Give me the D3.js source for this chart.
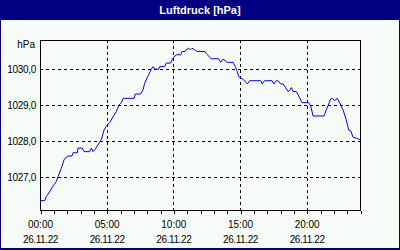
<!DOCTYPE html>
<html>
<head>
<meta charset="utf-8">
<script src="https://cdn.jsdelivr.net/npm/d3@7"></script>
<style>
	body { margin: 0; background: #f8fcf8; }
	text { font-family: "Liberation Sans", Arial, sans-serif; }
</style>
</head>
<body>
<div id="chart"></div>
<script>
(function (){
	"use strict";

// data: hours since 00:00 and pressure in hPa
var hours = [0, 0.35, 0.47, 0.73, 0.98, 1.22, 1.35, 1.6, 1.8, 1.97, 2.1, 2.4, 2.48, 2.8, 2.85, 3.17, 3.3, 3.73, 3.85, 3.98,
	4.15, 4.35, 4.6, 4.8, 4.97, 5.23, 5.48, 5.72, 5.93, 6.1, 6.23, 7.05, 7.15, 7.55, 7.73, 7.85, 8.1, 8.35, 8.48, 8.65,
	8.9, 8.98, 9.35, 9.47, 9.8, 9.98, 10.22, 10.55, 10.65, 10.88, 11.03, 11.15, 11.3, 11.4, 11.6, 11.78, 12.38, 12.47, 12.85, 13.4,
	13.55, 13.73, 14.05, 14.48, 14.65, 14.8, 14.9, 15.23, 15.55, 15.73, 16.55, 16.67, 16.85, 17.4, 17.55, 17.72, 17.85, 18.05, 18.23, 18.4,
	18.6, 18.73, 18.85, 18.98, 19.22, 19.4, 19.65, 20.15, 20.3, 20.48, 21.3, 21.47, 21.65, 21.8, 21.92, 22.1, 22.3, 22.48, 22.73, 22.97,
	23.15, 23.3, 23.48, 23.8, 24];
var pressure = [1026.35, 1026.35, 1026.46, 1026.60, 1026.76, 1026.88, 1027.02, 1027.25, 1027.48, 1027.56, 1027.59, 1027.59, 1027.68, 1027.68, 1027.81, 1027.81, 1027.71, 1027.71, 1027.81, 1027.71,
	1027.78, 1027.90, 1028.04, 1028.31, 1028.41, 1028.52, 1028.68, 1028.82, 1029.01, 1029.06, 1029.19, 1029.19, 1029.31, 1029.31, 1029.43, 1029.61, 1029.81, 1030.00, 1030.07, 1030.00,
	1030.00, 1030.07, 1030.07, 1030.17, 1030.17, 1030.31, 1030.40, 1030.40, 1030.49, 1030.49, 1030.56, 1030.58, 1030.54, 1030.58, 1030.54, 1030.49, 1030.49, 1030.43, 1030.29, 1030.29,
	1030.19, 1030.28, 1030.19, 1030.19, 1030.07, 1029.93, 1029.79, 1029.72, 1029.59, 1029.68, 1029.68, 1029.59, 1029.68, 1029.68, 1029.59, 1029.68, 1029.68, 1029.59, 1029.59, 1029.50,
	1029.38, 1029.41, 1029.49, 1029.38, 1029.38, 1029.26, 1029.07, 1029.07, 1028.98, 1028.70, 1028.70, 1028.87, 1029.03, 1029.17, 1029.19, 1029.13, 1029.19, 1029.06, 1028.87, 1028.59,
	1028.31, 1028.29, 1028.11, 1028.08, 1028.04];

var yTicks = [1027, 1028, 1029, 1030];
var xLabelHours = [0, 5, 10, 15, 20];
var timeLabels = ["00:00", "05:00", "10:00", "15:00", "20:00"];
var dateLabel = "26.11.22";
var title = "Luftdruck [hPa]";
var unit = "hPa";

var width = 400,
	height = 250,
	left = 40, right = 360,
	top = 40, bottom = 210;

var navy = "#000080";

var svg = d3.select("#chart").append("svg")
	.attr("width", width)
	.attr("height", height);

// frame + title bar
svg.append("rect")
	.attr("width", width).attr("height", height)
	.style("fill", navy);
svg.append("rect")
	.attr("x", 1).attr("y", 20)
	.attr("width", width - 2).attr("height", 228)
	.style("fill", "#f8fcf8");
svg.append("text")
	.attr("x", 200).attr("y", 14)
	.attr("text-anchor", "middle")
	.style("font-size", "11px")
	.style("font-weight", "bold")
	.style("fill", "white")
	.text(title);

var x = d3.scaleLinear().domain([0, 24]).range([left, right]);
var y = d3.scaleLinear().domain([1026.09, 1030.81]).range([bottom, top]);

// grid
var grid = svg.append("g").attr("class", "grid")
	.style("shape-rendering", "crispEdges");
grid.selectAll("line.v").data([5, 10, 15, 20])
	.enter().append("line")
		.attr("x1", function(d){ return Math.round(x(d)) + 0.5; })
		.attr("x2", function(d){ return Math.round(x(d)) + 0.5; })
		.attr("y1", top).attr("y2", bottom)
		.style("stroke", "black")
		.style("stroke-dasharray", "3,3");
grid.selectAll("line.h").data(yTicks)
	.enter().append("line")
		.attr("y1", function(d){ return Math.round(y(d)) + 0.5; })
		.attr("y2", function(d){ return Math.round(y(d)) + 0.5; })
		.attr("x1", left).attr("x2", right)
		.style("stroke", "black")
		.style("stroke-dasharray", "3,3");

// plot border
svg.append("rect")
	.attr("x", left + 0.5).attr("y", top + 0.5)
	.attr("width", right - left).attr("height", bottom - top)
	.style("fill", "none")
	.style("stroke", "black")
	.style("shape-rendering", "crispEdges");

// hourly ticks
var xAxis = d3.axisBottom(x)
	.tickValues(d3.range(0, 25))
	.tickSize(3)
	.tickFormat("");
var gx = svg.append("g")
	.attr("transform", "translate(0.5," + (bottom + 0.5) + ")")
	.style("shape-rendering", "crispEdges")
	.call(xAxis);
gx.select(".domain").remove();

var labels = svg.append("g")
	.style("font-size", "10px")
	.style("fill", "black");
labels.selectAll("text.t").data(xLabelHours)
	.enter().append("text")
		.attr("x", function(d){ return x(d) + 0.5; })
		.attr("y", 228)
		.attr("text-anchor", "middle")
		.text(function(d, i){ return timeLabels[i]; });
labels.selectAll("text.d").data(xLabelHours)
	.enter().append("text")
		.attr("x", function(d){ return x(d) + 0.5; })
		.attr("y", 243)
		.attr("text-anchor", "middle")
		.style("letter-spacing", "-0.4px")
		.text(dateLabel);

var yAxis = d3.axisLeft(y)
	.tickValues(yTicks)
	.tickSize(0)
	.tickPadding(4)
	.tickFormat(function(d){ return d.toFixed(1).replace(".", ","); });
var gy = svg.append("g")
	.attr("transform", "translate(" + left + ",0.5)")
	.call(yAxis);
gy.select(".domain").remove();
gy.selectAll("text")
	.style("font-family", "Liberation Sans, Arial, sans-serif")
	.style("font-size", "10px")
	.style("letter-spacing", "-0.3px");

svg.append("text")
	.attr("x", 35).attr("y", 48)
	.attr("text-anchor", "end")
	.style("font-size", "10px")
	.text(unit);

// the pressure line
var line = d3.line()
	.x(function(d){ return x(d[0]); })
	.y(function(d){ return y(d[1]); });

svg.append("path")
	.datum(d3.zip(hours, pressure))
	.attr("d", line)
	.style("fill", "none")
	.style("stroke", "#0000ff")
	.style("stroke-width", 1);

})();
</script>
</body>
</html>
